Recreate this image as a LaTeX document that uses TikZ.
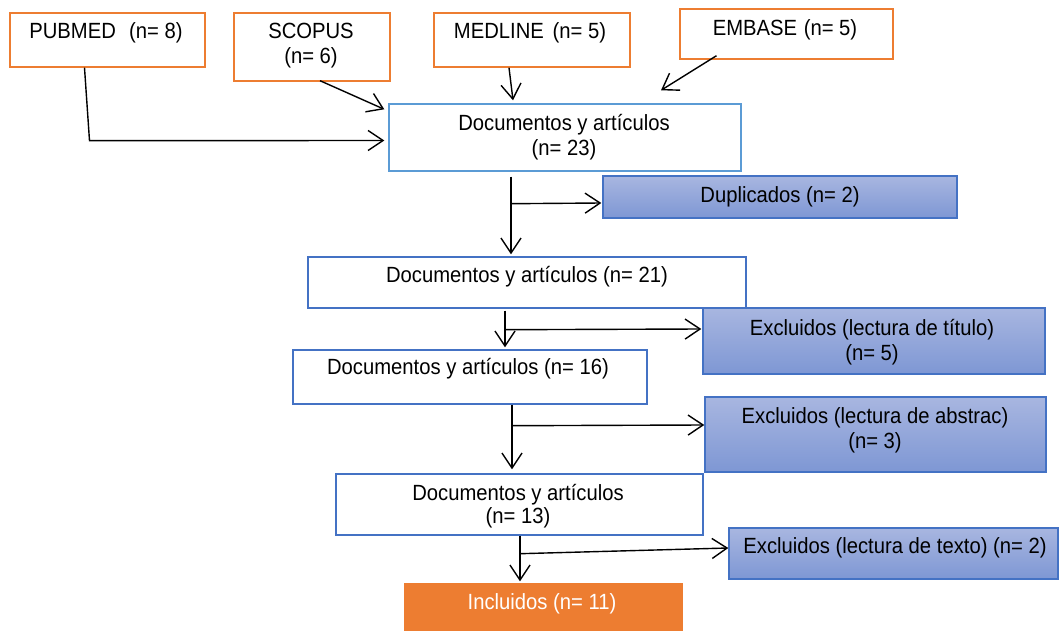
\documentclass[tikz,border=0pt]{standalone}
\usepackage{fontspec}
\setmainfont{Liberation Sans}[FakeStretch=0.92]
\usetikzlibrary{arrows.meta,calc,fit}
\definecolor{orng}{HTML}{ED7D31}
\definecolor{lblue}{HTML}{5B9BD5}
\definecolor{mblue}{HTML}{4472C4}
\definecolor{ftop}{RGB}{168,182,224}
\definecolor{fbot}{RGB}{126,151,212}
\begin{document}
\begin{tikzpicture}[x=1pt,y=-1pt,
  box/.style={line width=1.4pt, inner sep=0pt},
  srcbox/.style={box, draw=orng},
  docbox/.style={box, draw=mblue, fill=white},
  excbox/.style={box, draw=mblue, top color=ftop, bottom color=fbot},
  txt/.style={font=\fontsize{22}{25}\selectfont, align=center, inner sep=0pt},
  arr/.style={line width=1.4pt, -{Straight Barb[length=15pt,width=20pt,line width=1.4pt]}}]
\useasboundingbox (0,0) rectangle (1060,631);
\fill[white] (0,0) rectangle (1060,631);
% boxes
\node[srcbox, fit={(10,13)(205,67)}] (pub) {};
\node[srcbox, fit={(234,13)(390,81)}] (sco) {};
\node[srcbox, fit={(434,13)(630,67)}] (med) {};
\node[srcbox, fit={(680,9)(893,59)}] (emb) {};
\node[box, draw=lblue, fit={(389,104)(741,171)}] (d23) {};
\node[excbox, fit={(603,176)(957,218)}] (dup) {};
\node[docbox, fit={(308,257)(746,308)}] (d21) {};
\node[excbox, fit={(703,308)(1045,374)}] (tit) {};
\node[docbox, fit={(293,350)(647,404)}] (d16) {};
\node[excbox, fit={(705,397)(1046,472)}] (abs) {};
\node[docbox, fit={(336,474)(703,535)}] (d13) {};
\node[excbox, fit={(729,528)(1058,579)}] (txe) {};
\node[box, fill=orng, fit={(404,583)(683,634)}] (inc) {};
% texts
\node[txt] (pubT) at (106,33) {PUBMED\hspace{0.6em}(n= 8)};
\node[txt] (scoT) at (311,45.5) {SCOPUS\\(n= 6)};
\node[txt] (medT) at (530,33) {MEDLINE\hspace{0.4em}(n= 5)};
\node[txt] (embT) at (785,30) {EMBASE\hspace{0.3em}(n= 5)};
\node[txt] (d23T) at (564,137) {Documentos y artículos\\(n= 23)};
\node[txt] (dupT) at (780,197) {Duplicados (n= 2)};
\node[txt] (d21T) at (527,277) {Documentos y artículos (n= 21)};
\node[txt] (titT) at (872,342.5) {Excluidos (lectura de título)\\(n= 5)};
\node[txt] (d16T) at (468,369) {Documentos y artículos (n= 16)};
\node[txt] (absT) at (875,430) {Excluidos (lectura de abstrac)\\(n= 3)};
\node[txt, font=\fontsize{22}{23}\selectfont] (d13T) at (518,506) {Documentos y artículos\\(n= 13)};
\node[txt] (txeT) at (895,548) {Excluidos (lectura de texto) (n= 2)};
\node[txt, text=white] (incT) at (542,604) {Incluidos (n= 11)};
% connectors
\draw[arr] ($(pub.south)+(-23,0)$) -- ($(pub.south)+(-18,73)$) -- ($(d23.west)+(-4,3)$);
\draw[arr] ($(sco.south)+(8,-1)$) -- ($(d23.north west)+(-4,6)$);
\draw[arr] ($(med.south)+(-23,0)$) -- ($(d23.north)+(-52,-3)$);
\draw[arr] ($(emb.south)+(-70,-4)$) -- ($(d23.north)+(96,-13)$);
\draw[arr] ($(d23.south)+(-54,5)$) -- ($(d21.north)+(-16,-2)$);
\draw[arr] ($(d23.south)+(-54,32)$) -- ($(dup.west)+(-1,6)$);
\draw[arr] ($(d21.south)+(-22,2)$) -- ($(d16.north)+(35,-2)$);
\draw[arr] ($(d21.south)+(-22,21)$) -- ($(tit.west)+(-1,-12)$);
\draw[arr] ($(d16.south)+(42,0)$) -- ($(d13.north)+(-7.5,-4)$);
\draw[arr] ($(d16.south)+(42,21)$) -- ($(abs.west)+(0,-9.5)$);
\draw[arr] ($(d13.south)+(0.5,0)$) -- ($(inc.north)+(-23.5,-1)$);
\draw[arr] ($(d13.south)+(0.5,18)$) -- ($(txe.west)+(0,-5.5)$);
\end{tikzpicture}
\end{document}
